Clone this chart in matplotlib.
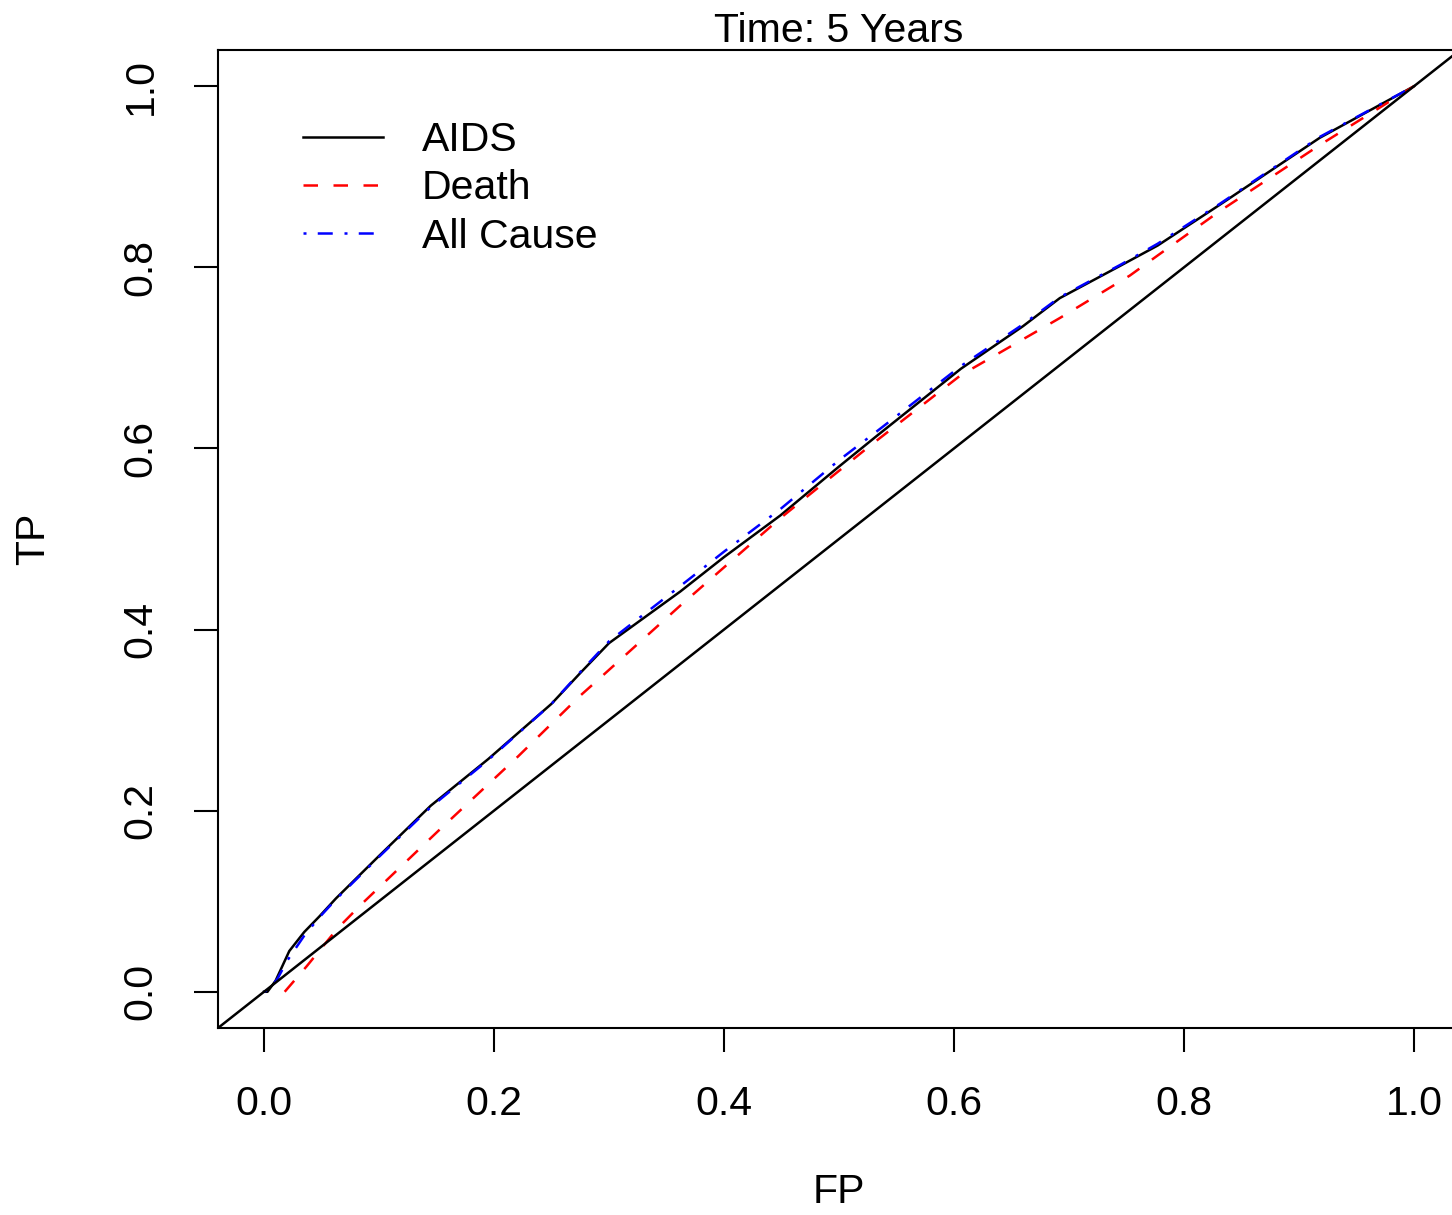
import matplotlib
matplotlib.use('Agg')
import matplotlib.pyplot as plt

# ROC curves at 5 years
fp_aids = [0.0, 0.003, 0.010, 0.022, 0.035, 0.048, 0.0625, 0.10, 0.145, 0.195, 0.25, 0.275,
           0.30, 0.362, 0.40, 0.449, 0.50, 0.533, 0.606, 0.66, 0.692, 0.745, 0.777, 0.831, 0.918, 1.0]
tp_aids = [0.0, 0.0, 0.012, 0.045, 0.066, 0.083, 0.103, 0.150, 0.2055, 0.257, 0.318, 0.352,
           0.385, 0.442, 0.480, 0.526, 0.580, 0.614, 0.688, 0.735, 0.766, 0.802, 0.824, 0.869, 0.943, 1.0]

fp_death = [0.018, 0.037, 0.064, 0.085, 0.151, 0.221, 0.275, 0.290, 0.362, 0.449, 0.527,
            0.606, 0.692, 0.753, 0.777, 0.831, 0.918, 1.0]
tp_death = [0.0, 0.028, 0.070, 0.097, 0.177, 0.260, 0.327, 0.344, 0.4265, 0.523, 0.603,
            0.681, 0.744, 0.791, 0.813, 0.862, 0.935, 1.0]

fp_all = [0.0, 0.005, 0.012, 0.020, 0.035, 0.048, 0.0625, 0.10, 0.145, 0.195, 0.25, 0.275,
          0.30, 0.362, 0.40, 0.449, 0.50, 0.533, 0.606, 0.66, 0.692, 0.745, 0.777, 0.831, 0.918, 1.0]
tp_all = [0.0, 0.003, 0.015, 0.034, 0.062, 0.082, 0.102, 0.149, 0.204, 0.256, 0.318, 0.353,
          0.387, 0.448, 0.486, 0.533, 0.587, 0.619, 0.691, 0.737, 0.767, 0.803, 0.826, 0.870, 0.944, 1.0]

ticks = [0.0, 0.2, 0.4, 0.6, 0.8, 1.0]

plt.rcParams['font.family'] = ['Liberation Sans', 'DejaVu Sans']
plt.rcParams['font.size'] = 29.5

fig = plt.figure(figsize=(14.52, 12.15), dpi=100)
ax = fig.add_axes([218 / 1452, 1 - 1028 / 1215, (1460 - 218) / 1452, (1028 - 50) / 1215])

lw = 1.8
ax.plot(fp_aids, tp_aids, color='black', lw=lw, label='AIDS')
ax.plot(fp_death, tp_death, color='red', lw=lw, dashes=(5.8, 6.2), label='Death')
ax.plot(fp_all, tp_all, color='blue', lw=lw, dashes=(1.2, 4.5, 6.0, 4.7), label='All Cause')
ax.axline((0, 0), (1, 1), color='black', lw=lw)

ax.set_xlim(-0.04, 1.04)
ax.set_ylim(-0.04, 1.04)
ax.set_xticks(ticks)
ax.set_yticks(ticks)
ax.set_xticklabels(['%.1f' % t for t in ticks])
ax.set_yticklabels(['%.1f' % t for t in ticks], va='center')
ax.tick_params(length=17, width=1.5)
ax.tick_params(axis='x', pad=24)
ax.tick_params(axis='y', labelrotation=90, pad=25)
for s in ax.spines.values():
    s.set_linewidth(1.5)

ax.set_title('Time: 5 Years', fontsize=29.5, pad=2)
ax.set_xlabel('FP', labelpad=36)
ax.set_ylabel('TP', labelpad=50)

ax.legend(loc='upper left', bbox_to_anchor=(0.055, 0.944), frameon=False,
          handlelength=1.95, handletextpad=0.95, labelspacing=0.25, borderaxespad=0)

fig.savefig('out.png', dpi=100)
